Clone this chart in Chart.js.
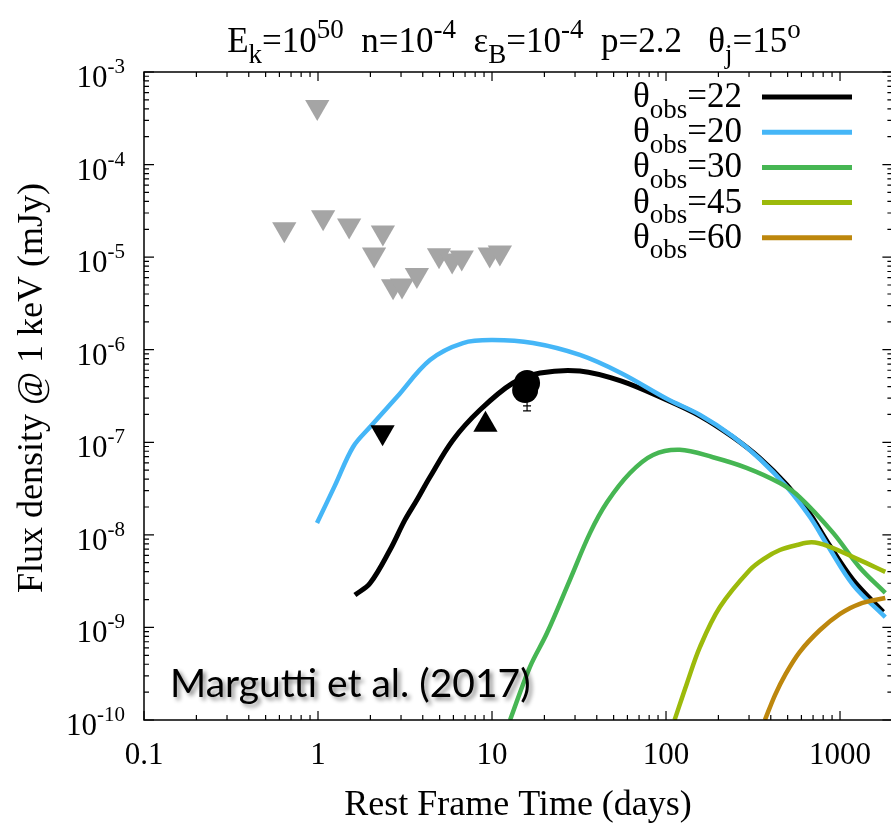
<!DOCTYPE html>
<html>
<head>
<meta charset="utf-8">
<script src="https://cdn.jsdelivr.net/npm/chart.js@4.4.0/dist/chart.umd.min.js"></script>
<style>
html, body { margin: 0; padding: 0; overflow: hidden; background: #fff; }
canvas { display: block; }
</style>
</head>
<body>
<canvas id="chart" width="895" height="828" style="width:895px;height:828px"></canvas>
<script>
// axis ticks
var xTickVals = [0.1, 1, 10, 100, 1000];
var xTickLabels = ['0.1', '1', '10', '100', '1000'];
var yTickExps = [-3, -4, -5, -6, -7, -8, -9, -10];

// grey upper limits (days, mJy)
var ulT = [0.99, 0.64, 1.07, 1.51, 2.36, 2.1, 2.7, 3.04, 3.7, 4.96, 5.9, 6.7, 9.7, 11.1];
var ulF = [4.2e-4, 2.0e-5, 2.7e-5, 2.2e-5, 1.85e-5, 1.07e-5, 4.85e-6, 4.95e-6, 6.4e-6, 1.05e-5, 9.2e-6, 9.9e-6, 1.07e-5, 1.12e-5];

// black points
var downT = [2.35];
var downF = [1.28e-7];
var upT = [9.17];
var upF = [1.55e-7];
var detT = [15.9, 15.5];
var detF = [4.37e-7, 3.67e-7];
var errT = [15.9, 15.9, 15.9];
var errF = [3.67e-7, 2.47e-7, 2.18e-7];

// model curves
var t22 = [1.63, 1.99, 2.59, 3.16, 3.7, 4.4, 5.97, 8.52, 13.2, 18.9, 32, 55, 101, 157, 242, 346, 495, 672, 845, 1190, 1770];
var f22 = [2.24e-9, 3.0e-9, 6.86e-9, 1.45e-8, 2.38e-8, 4.22e-8, 1.06e-7, 2.23e-7, 4.37e-7, 5.6e-7, 5.89e-7, 4.6e-7, 2.86e-7, 1.92e-7, 1.14e-7, 6.76e-8, 3.46e-8, 1.68e-8, 8.4e-9, 3.25e-9, 1.47e-9];
var t20 = [0.987, 1.25, 1.59, 1.99, 2.84, 4.4, 6.81, 10.1, 17.2, 32, 55, 101, 157, 242, 346, 495, 672, 845, 1190, 1820];
var f20 = [1.34e-8, 3.4e-8, 8.9e-8, 1.46e-7, 3.08e-7, 7.74e-7, 1.18e-6, 1.27e-6, 1.18e-6, 8.77e-7, 5.6e-7, 2.95e-7, 1.97e-7, 1.16e-7, 6.6e-8, 3.29e-8, 1.56e-8, 7.77e-9, 2.87e-9, 1.29e-9];
var t30 = [12.7, 16.5, 20.7, 28.0, 36.6, 45.9, 62.1, 84.2, 120, 186, 290, 451, 586, 913, 1290, 1820];
var f30 = [1e-10, 3.73e-10, 8.7e-10, 3.25e-9, 1.05e-8, 2.26e-8, 4.66e-8, 7.3e-8, 8.3e-8, 6.9e-8, 5.3e-8, 3.63e-8, 2.56e-8, 1.05e-8, 4.5e-9, 2.36e-9];
var t45 = [112, 132, 157, 204, 303, 371, 451, 565, 688, 845, 1290, 1820];
var f45 = [1e-10, 2.5e-10, 6.2e-10, 1.66e-9, 4.17e-9, 5.62e-9, 6.86e-9, 7.77e-9, 8.3e-9, 7.6e-9, 5.37e-9, 3.98e-9];
var t60 = [370, 423, 483, 586, 767, 1000, 1290, 1820];
var f60 = [1e-10, 1.86e-10, 3.06e-10, 5.42e-10, 9.38e-10, 1.4e-9, 1.79e-9, 2.08e-9];

var legendAngles = ['22', '20', '30', '45', '60'];
var legendColors = ['#000000', '#45b6f7', '#46b653', '#9cba0b', '#bd870d'];

var SERIF = '"Liberation Serif", "Times New Roman", serif';

function pts(t, f) {
    return t.map(function (v, i) { return { x: v, y: f[i] }; });
}

function curve(t, f, color, w) {
    return {
        data: pts(t, f),
        borderColor: color,
        borderWidth: w,
        pointRadius: 0,
        tension: 0.35,
        fill: false
    };
}

function marker(t, f, style, rot, r, color) {
    return {
        data: pts(t, f),
        showLine: false,
        pointStyle: style,
        pointRotation: rot,
        pointRadius: r,
        pointBackgroundColor: color,
        pointBorderColor: color,
        pointBorderWidth: 0
    };
}

// parts: [text, mode] with mode 0 normal, 1 superscript, -1 subscript
function richWidth(ctx, parts, size) {
    var w = 0;
    parts.forEach(function (p) {
        ctx.font = (p[1] === 0 ? size : Math.round(size * 0.78)) + 'px ' + SERIF;
        w += ctx.measureText(p[0]).width;
    });
    return w;
}

function drawRich(ctx, parts, x, y, size, align) {
    var w = richWidth(ctx, parts, size);
    var cx = align === 'right' ? x - w : (align === 'center' ? x - w / 2 : x);
    ctx.textAlign = 'left';
    ctx.textBaseline = 'alphabetic';
    parts.forEach(function (p) {
        var s = p[1] === 0 ? size : Math.round(size * 0.78);
        var dy = p[1] === 1 ? -size * 0.4 : (p[1] === -1 ? size * 0.3 : 0);
        ctx.font = s + 'px ' + SERIF;
        ctx.fillText(p[0], cx, y + dy);
        cx += ctx.measureText(p[0]).width;
    });
}

var decorPlugin = {
    id: 'decor',
    afterDraw: function (chart) {
        var ctx = chart.ctx;
        var xs = chart.scales.x, ys = chart.scales.y;
        var a = chart.chartArea;
        ctx.save();
        ctx.fillStyle = '#000';
        ctx.strokeStyle = '#000';

        // border
        ctx.lineWidth = 1.5;
        ctx.strokeRect(a.left, a.top, a.right - a.left, a.bottom - a.top);

        // ticks (inward, mirrored)
        ctx.lineWidth = 1.2;
        ctx.beginPath();
        for (var e = -1; e <= 3; e++) {
            for (var m = 1; m <= 9; m++) {
                var v = m * Math.pow(10, e);
                if (v > 2000) break;
                var px = xs.getPixelForValue(v);
                var len = m === 1 ? 9 : 5;
                ctx.moveTo(px, a.bottom); ctx.lineTo(px, a.bottom - len);
                ctx.moveTo(px, a.top); ctx.lineTo(px, a.top + len);
            }
        }
        for (var ey = -10; ey <= -3; ey++) {
            for (var my = 1; my <= 9; my++) {
                if (ey === -3 && my > 1) break;
                var py = ys.getPixelForValue(my * Math.pow(10, ey));
                var leny = my === 1 ? 10 : 5;
                ctx.moveTo(a.left, py); ctx.lineTo(a.left + leny, py);
                ctx.moveTo(a.right, py); ctx.lineTo(a.right - leny, py);
            }
        }
        ctx.stroke();

        // x tick labels
        ctx.font = '31px ' + SERIF;
        ctx.textAlign = 'center';
        ctx.textBaseline = 'alphabetic';
        xTickVals.forEach(function (v, i) {
            ctx.fillText(xTickLabels[i], xs.getPixelForValue(v), 764);
        });

        // y tick labels: 10 with superscript exponent
        yTickExps.forEach(function (ex) {
            var py = ys.getPixelForValue(Math.pow(10, ex));
            var sup = String(ex);
            ctx.font = '21px ' + SERIF;
            var ws = ctx.measureText(sup).width;
            ctx.textAlign = 'right';
            ctx.fillText(sup, 125, py + 1);
            ctx.font = '31px ' + SERIF;
            ctx.fillText('10', 125 - ws, py + 15);
        });

        // axis titles
        ctx.font = '36px ' + SERIF;
        ctx.textAlign = 'center';
        ctx.fillText('Rest Frame Time (days)', 518, 815);
        ctx.save();
        ctx.translate(42, 388);
        ctx.rotate(-Math.PI / 2);
        ctx.fillText('Flux density @ 1 keV (mJy)', 0, 0);
        ctx.restore();

        // title
        drawRich(ctx, [['E', 0], ['k', -1], ['=10', 0], ['50', 1], ['  n=10', 0], ['-4', 1],
            ['  \u03b5', 0], ['B', -1], ['=10', 0], ['-4', 1], ['  p=2.2   \u03b8', 0], ['j', -1],
            ['=15', 0], ['o', 1]], 514, 52, 35, 'center');

        // legend
        legendAngles.forEach(function (ang, i) {
            var ly = 97 + i * 35.2;
            ctx.fillStyle = '#000';
            drawRich(ctx, [['\u03b8', 0], ['obs', -1], ['=' + ang, 0]], 742, ly + 10, 35, 'right');
            ctx.strokeStyle = legendColors[i];
            ctx.lineWidth = 5;
            ctx.beginPath();
            ctx.moveTo(762, ly);
            ctx.lineTo(852, ly);
            ctx.stroke();
        });

        // annotation with drop shadow
        ctx.font = '39px Lato, "Open Sans", sans-serif';
        ctx.textAlign = 'left';
        ctx.fillStyle = '#000';
        ctx.shadowColor = 'rgba(0,0,0,0.45)';
        ctx.shadowOffsetX = 3;
        ctx.shadowOffsetY = 3;
        ctx.shadowBlur = 4;
        ctx.fillText('Margutti et al. (2017)', 170, 697);
        ctx.restore();
    }
};

var ctx = document.getElementById('chart').getContext('2d');
var chart = new Chart(ctx, {
    type: 'line',
    data: {
        datasets: [
            marker(ulT, ulF, 'triangle', 180, 14, '#a5a5a5'),
            marker(downT, downF, 'triangle', 180, 14, '#000'),
            marker(upT, upF, 'triangle', 0, 14, '#000'),
            marker(detT, detF, 'circle', 0, 13, '#000'),
            {
                data: pts(errT, errF),
                borderColor: '#000',
                borderWidth: 1.2,
                pointStyle: 'line',
                pointRadius: [0, 4, 4],
                pointBorderColor: '#000',
                pointBorderWidth: 1.2
            },
            curve(t60, f60, legendColors[4], 4.5),
            curve(t45, f45, legendColors[3], 4.5),
            curve(t30, f30, legendColors[2], 4.5),
            curve(t20, f20, legendColors[1], 4.5),
            curve(t22, f22, legendColors[0], 5)
        ]
    },
    options: {
        responsive: false,
        animation: false,
        events: [],
        layout: {
            autoPadding: false,
            padding: { left: 144, top: 72, right: 2.6, bottom: 108 }
        },
        scales: {
            x: { type: 'logarithmic', min: 0.1, max: 2000, display: false },
            y: { type: 'logarithmic', min: 1e-10, max: 1e-3, display: false }
        },
        plugins: {
            legend: { display: false },
            tooltip: { enabled: false }
        }
    },
    plugins: [decorPlugin]
});
</script>
</body>
</html>
